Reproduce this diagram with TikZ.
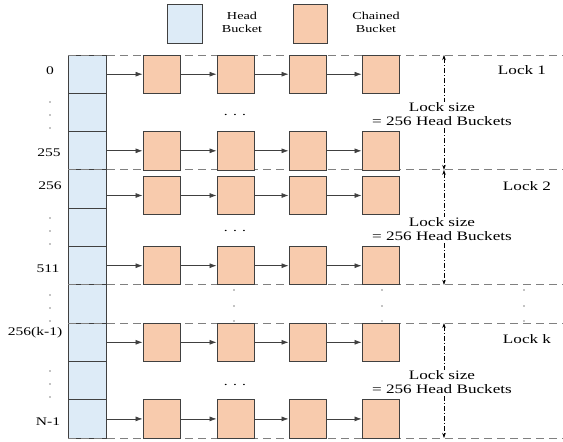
\documentclass[tikz,border=0pt]{standalone}
\usepackage{fontspec}
\setmainfont{Liberation Serif}[FakeStretch=1.33]
\usetikzlibrary{arrows.meta}
\definecolor{BkHead}{RGB}{221,235,247}
\definecolor{BkChain}{RGB}{248,203,173}
\definecolor{BkLine}{RGB}{64,64,64}
\definecolor{BkDash}{RGB}{128,128,128}

\begin{document}
\begin{tikzpicture}[x=1pt,y=-1pt,every node/.style={inner sep=0pt},
 headcell/.style={draw=BkLine,fill=BkHead,line width=.9pt,minimum width=38pt,minimum height=38.3pt},
 chainbox/.style={draw=BkLine,fill=BkChain,line width=.9pt,minimum width=37pt,minimum height=38.3pt},
 link/.style={BkLine,line width=.7pt,-{Latex[length=7pt,width=5pt]}},
 lockline/.style={BkDash,line width=.9pt,dash pattern=on 8pt off 5pt},
 lockspan/.style={black,line width=.5pt,dash pattern=on 5pt off 2pt on 1pt off 2pt,{Stealth[length=5pt,width=3.5pt]}-{Stealth[length=5pt,width=3.5pt]}},
 idx/.style={font=\fontsize{11.7}{13}\selectfont},
 lockname/.style={font=\fontsize{12.9}{14}\selectfont,align=center},
 legend/.style={font=\fontsize{10.7}{13}\selectfont,align=center}]
\useasboundingbox(0,0)rectangle(563,442);
% legend
\node[headcell,minimum width=35pt,minimum height=39pt](lgH)at(184.5,23.5){};\node[legend](lgHt)at(242,22.5){Head\\Bucket};
\node[chainbox,minimum width=34pt,minimum height=39pt](lgC)at(310,23.5){};\node[legend](lgCt)at(376,22.5){Chained\\Bucket};
% head buckets
\foreach \i in {1,...,10}\node[headcell](h\i)at(87,{55+38.3*(\i-.5)}){};
% lock boundaries
\foreach \y in {55,169.9,284.8,323.1,438}\draw[lockline](68,\y)--(563,\y);
% chained buckets
\foreach \r/\ym in {1/74.2,3/150.8,4/195.5,6/265.7,8/342.3,10/418.9}{
 \foreach \c/\x in {1/161.5,2/235.5,3/307.5,4/380.5}\node[chainbox](c\r-\c)at(\x,\ym){};
 \draw[link](c\r-1 -| h\r.east)--(c\r-1);\draw[link](c\r-1)--(c\r-2);\draw[link](c\r-2)--(c\r-3);\draw[link](c\r-3)--(c\r-4);}
\foreach \n/\y in {1/115,2/231,3/385}\node[idx](el\n)at(235,\y){. . .};
% vertical dots
\foreach \y in {102,115,128,218,231,244,295,308,321,371,384,397}\fill(50,\y)circle(.7pt);
\foreach \x in {234,382,524}\foreach \y in {290,306,321}\fill(\x,\y)circle(.7pt);
% indices
\node[idx](i0)at(50,71){0};\node[idx](i255)at(49,153){255};
\node[idx](i256)at(50,186){256};\node[idx](i511)at(48,269){511};
\node[idx](ik)at(35,333){256(k-1)};\node[idx](iN)at(48,422){N-1};
% lock size
\foreach \t/\b/\n in {55/169.9/1,169.9/284.8/2,323.1/438/3}{
 \coordinate(st\n)at(444,\t);\coordinate(sb\n)at(444,\b);\draw[lockspan](st\n)--(sb\n);
 \node[lockname,fill=white,inner sep=1pt](ls\n)at(442,{(\t+\b)/2+2}){Lock size\\= 256 Head Buckets};}
\node[lockname](lk1)at(522,70){Lock 1};\node[lockname](lk2)at(527,186){Lock 2};\node[lockname](lk3)at(527,339){Lock k};
\end{tikzpicture}
\end{document}
